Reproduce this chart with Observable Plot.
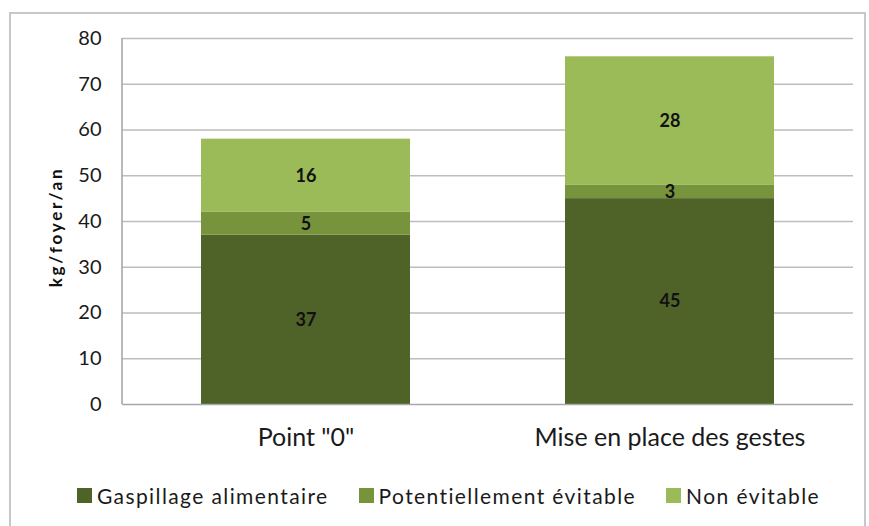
<!DOCTYPE html>
<html><head><meta charset="utf-8">
<script src="https://cdn.jsdelivr.net/npm/d3@7"></script>
<script src="https://cdn.jsdelivr.net/npm/@observablehq/plot@0.6"></script>
<style>
body{margin:0;background:#fff;font-family:Lato,"Open Sans",sans-serif;}
#wrap{position:relative;width:869px;height:526px;overflow:hidden;}
#frame{position:absolute;left:9px;top:12px;width:857px;height:540px;border:2px solid #c8c8c8;box-sizing:border-box;}
#chart{position:absolute;left:0;top:0;}
#legend{position:absolute;top:483px;left:0;width:869px;display:flex;justify-content:center;gap:30px;font-size:21px;letter-spacing:1.4px;color:#1a1a1a;padding-left:28px;box-sizing:border-box;}
#legend span.item{display:inline-flex;align-items:center;white-space:nowrap;}
#legend span.sw{display:inline-block;width:15px;height:15px;margin-right:5px;}
#ylab{position:absolute;left:55px;top:227px;transform:translate(-50%,-50%) rotate(-90deg);font-weight:bold;font-size:17px;letter-spacing:2.8px;white-space:nowrap;color:#111;}
</style></head>
<body>
<div id="wrap">
<div id="frame"></div>
<div id="chart"></div>
<div id="ylab">kg/foyer/an</div>
<div id="legend"></div>
</div>
<script>
const categories = ["Point \"0\"", "Mise en place des gestes"];
const seriesNames = ["Gaspillage alimentaire", "Potentiellement évitable", "Non évitable"];
const gaspillage = [37, 45];
const potentiel = [5, 3];
const nonEvitable = [16, 28];
const colors = ["#4f6228", "#77933c", "#9bbb59"];
const yTicks = [0, 10, 20, 30, 40, 50, 60, 70, 80];

const seriesValues = [gaspillage, potentiel, nonEvitable];
const data = [];
categories.forEach((c, i) => {
  seriesNames.forEach((s, j) => data.push({cat: c, series: s, value: seriesValues[j][i]}));
});

const chart = Plot.plot({
  width: 869,
  height: 460,
  marginLeft: 122,
  marginRight: 16,
  marginTop: 38,
  marginBottom: 56,
  style: {fontFamily: "Lato, 'Open Sans', sans-serif", background: "transparent"},
  x: {domain: categories, paddingInner: 0.425, paddingOuter: 0.214, label: null},
  y: {domain: [0, 80], ticks: yTicks, label: null},
  color: {domain: seriesNames, range: colors},
  marks: [
    Plot.gridY(yTicks.filter(d => d > 0), {stroke: "#bdbdbd", strokeOpacity: 1, strokeWidth: 1.6}),
    Plot.barY(data, Plot.stackY({x: "cat", y: "value", fill: "series", z: "series", order: seriesNames})),
    Plot.text(data, Plot.stackY({x: "cat", y: "value", z: "series", text: "value", order: seriesNames, fill: "#111", fontWeight: "bold", fontSize: 18})),
    Plot.ruleY([0], {stroke: "#a8a8a8", strokeWidth: 1.6}),
    Plot.axisY({ticks: yTicks, tickSize: 0, tickPadding: 21, fontSize: 20, fill: "#1a1a1a", label: null}),
    Plot.axisX({tickSize: 0, tickPadding: 24, fontSize: 25, fill: "#1a1a1a", label: null, style: {letterSpacing: "1.9px"}})
  ]
});
const svg = d3.select(chart);
svg.append("line").attr("x1", 122).attr("x2", 122).attr("y1", 38).attr("y2", 404)
  .attr("stroke", "#a8a8a8").attr("stroke-width", 1.6);
document.getElementById("chart").appendChild(chart);

const leg = document.getElementById("legend");
seriesNames.forEach((s, j) => {
  const it = document.createElement("span");
  it.className = "item";
  const sw = document.createElement("span");
  sw.className = "sw";
  sw.style.background = colors[j];
  it.appendChild(sw);
  it.appendChild(document.createTextNode(s));
  leg.appendChild(it);
});
</script>
</body></html>
